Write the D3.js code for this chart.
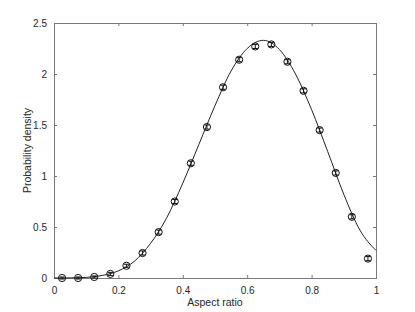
<!DOCTYPE html>
<html><head><meta charset="utf-8">
<script src="https://cdn.jsdelivr.net/npm/d3@7"></script>
<style>
html,body{margin:0;padding:0;background:#fff;}
svg{display:block;font-family:"Liberation Sans",Arial,sans-serif;}
</style></head>
<body><svg id="c" width="415" height="312"></svg>
<script>
// Data
const pointX = [0.025,0.075,0.125,0.175,0.225,0.275,0.325,0.375,0.425,0.475,0.525,0.575,0.625,0.675,0.725,0.775,0.825,0.875,0.925,0.975];
const pointY = [0.0,0.0,0.01,0.04,0.12,0.245,0.45,0.75,1.125,1.48,1.87,2.14,2.27,2.29,2.12,1.835,1.45,1.03,0.60,0.19];
const pointErr = [0.01,0.01,0.01,0.015,0.015,0.02,0.02,0.02,0.02,0.02,0.02,0.02,0.02,0.02,0.02,0.02,0.02,0.02,0.02,0.02];
const curveX = [0,0.05,0.1,0.15,0.2,0.25,0.3,0.35,0.4,0.45,0.5,0.55,0.6,0.65,0.7,0.75,0.8,0.85,0.9,0.95,1.0];
const curveY = [0,0.001,0.006,0.025,0.07,0.165,0.34,0.59,0.93,1.31,1.69,2.03,2.25,2.33,2.24,2.0,1.65,1.24,0.82,0.47,0.27];
const xTicks = [0,0.2,0.4,0.6,0.8,1];
const yTicks = [0,0.5,1,1.5,2,2.5];
const xLabel = "Aspect ratio";
const yLabel = "Probability density";

const L=54, T=23, R=376, B=278;
const svg = d3.select("#c");
const x = d3.scaleLinear().domain([0,1]).range([L,R]);
const y = d3.scaleLinear().domain([0,2.5]).range([B,T]);
const axisCol = "#7a7a7a", textCol = "#262626";

// frame
svg.append("rect").attr("x",L).attr("y",T).attr("width",R-L).attr("height",B-T)
  .attr("fill","none").attr("stroke",axisCol).attr("stroke-width",1).attr("shape-rendering","crispEdges");

// axes (ticks inward)
const fmt = d => String(d);
const gx = svg.append("g").attr("transform",`translate(0,${B})`)
  .call(d3.axisBottom(x).tickValues(xTicks).tickFormat(fmt).tickSizeInner(-3).tickSizeOuter(0).tickPadding(9));
const gxt = svg.append("g").attr("transform",`translate(0,${T})`)
  .call(d3.axisTop(x).tickValues(xTicks).tickFormat("").tickSizeInner(-3).tickSizeOuter(0));
const gy = svg.append("g").attr("transform",`translate(${L},0)`)
  .call(d3.axisLeft(y).tickValues(yTicks).tickFormat(fmt).tickSizeInner(-3).tickSizeOuter(0).tickPadding(7));
const gyr = svg.append("g").attr("transform",`translate(${R},0)`)
  .call(d3.axisRight(y).tickValues(yTicks).tickFormat("").tickSizeInner(-3).tickSizeOuter(0));
[gx,gxt,gy,gyr].forEach(g=>{
  g.select(".domain").remove();
  g.selectAll("line").attr("stroke",axisCol);
  g.selectAll("text").attr("fill",textCol).style("font-size","10px").style("font-family","'Liberation Sans',Arial,sans-serif");
});

// curve
const line = d3.line().x(d=>x(d[0])).y(d=>y(d[1])).curve(d3.curveMonotoneX);
svg.append("path").datum(curveX.map((v,i)=>[v,curveY[i]]))
  .attr("d",line).attr("fill","none").attr("stroke","#222").attr("stroke-width",1);

// points with error bars
const pts = svg.append("g");
pointX.forEach((px,i)=>{
  const cx=x(px), cy=y(pointY[i]), e1=y(pointY[i]+pointErr[i]), e2=y(pointY[i]-pointErr[i]);
  pts.append("line").attr("x1",cx).attr("x2",cx).attr("y1",e1).attr("y2",e2).attr("stroke","#111");
  pts.append("line").attr("x1",cx-2.5).attr("x2",cx+2.5).attr("y1",e1).attr("y2",e1).attr("stroke","#111");
  pts.append("line").attr("x1",cx-2.5).attr("x2",cx+2.5).attr("y1",e2).attr("y2",e2).attr("stroke","#111");
  pts.append("circle").attr("cx",cx).attr("cy",cy).attr("r",3.6).attr("fill","none").attr("stroke","#111").attr("stroke-width",1);
});

// labels
svg.append("text").attr("x",(L+R)/2).attr("y",306).attr("text-anchor","middle")
  .attr("fill",textCol).style("font-size","10.5px").text(xLabel);
svg.append("text").attr("transform",`translate(31,${(T+B)/2}) rotate(-90)`).attr("text-anchor","middle")
  .attr("fill",textCol).style("font-size","10.5px").text(yLabel);
</script></body></html>
